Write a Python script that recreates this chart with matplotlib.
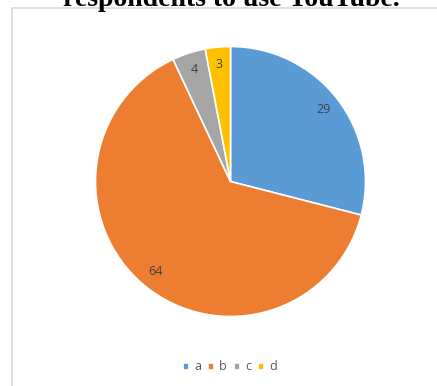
import matplotlib
matplotlib.use('Agg')
import matplotlib.pyplot as plt
from matplotlib.patches import Rectangle

categories = ['a', 'b', 'c', 'd']
values = [29, 64, 4, 3]
colors = ['#5B9BD5', '#ED7D31', '#A5A5A5', '#FFC000']
title = 'respondents to use YouTube.'

W, H = 437, 386
fig = plt.figure(figsize=(W / 100, H / 100), dpi=100)
fig.patch.set_facecolor('white')

# chart area border (runs off the right and bottom edges)
fig.patches.append(Rectangle((12 / W, -0.05), 1.0, 1 - 8 / H + 0.05,
                             transform=fig.transFigure, fill=False,
                             edgecolor='#d9d9d9', linewidth=1.2, zorder=0))

# title, partly clipped at the top
fig.text(231 / W, 1 - 6 / H, title, ha='center', va='baseline',
         family='Liberation Serif', fontweight='bold', fontsize=20)

cx, cy, r = 230.5, 181.5, 135
ax = fig.add_axes([(cx - r) / W, (H - cy - r) / H, 2 * r / W, 2 * r / H])
wedges, _, autotexts = ax.pie(
    values, colors=colors, startangle=90, counterclock=False,
    autopct=lambda p: f'{p:.0f}', pctdistance=0.87, radius=1,
    wedgeprops=dict(edgecolor='white', linewidth=1.2),
    textprops=dict(fontsize=9, color='#404040', family='Open Sans'))
ax.set_xlim(-1, 1)
ax.set_ylim(-1, 1)
ax.set_aspect('equal')
ax.axis('off')

fig.legend(wedges, categories, loc='center',
           bbox_to_anchor=(230 / W, 1 - 367 / H), ncol=4, frameon=False,
           handlelength=0.5, handleheight=0.5, handletextpad=0.4,
           columnspacing=0.55,
           prop=dict(family='Open Sans', size=9))
for t in fig.legends[0].get_texts():
    t.set_color('#595959')

fig.savefig('out.png', dpi=100)
